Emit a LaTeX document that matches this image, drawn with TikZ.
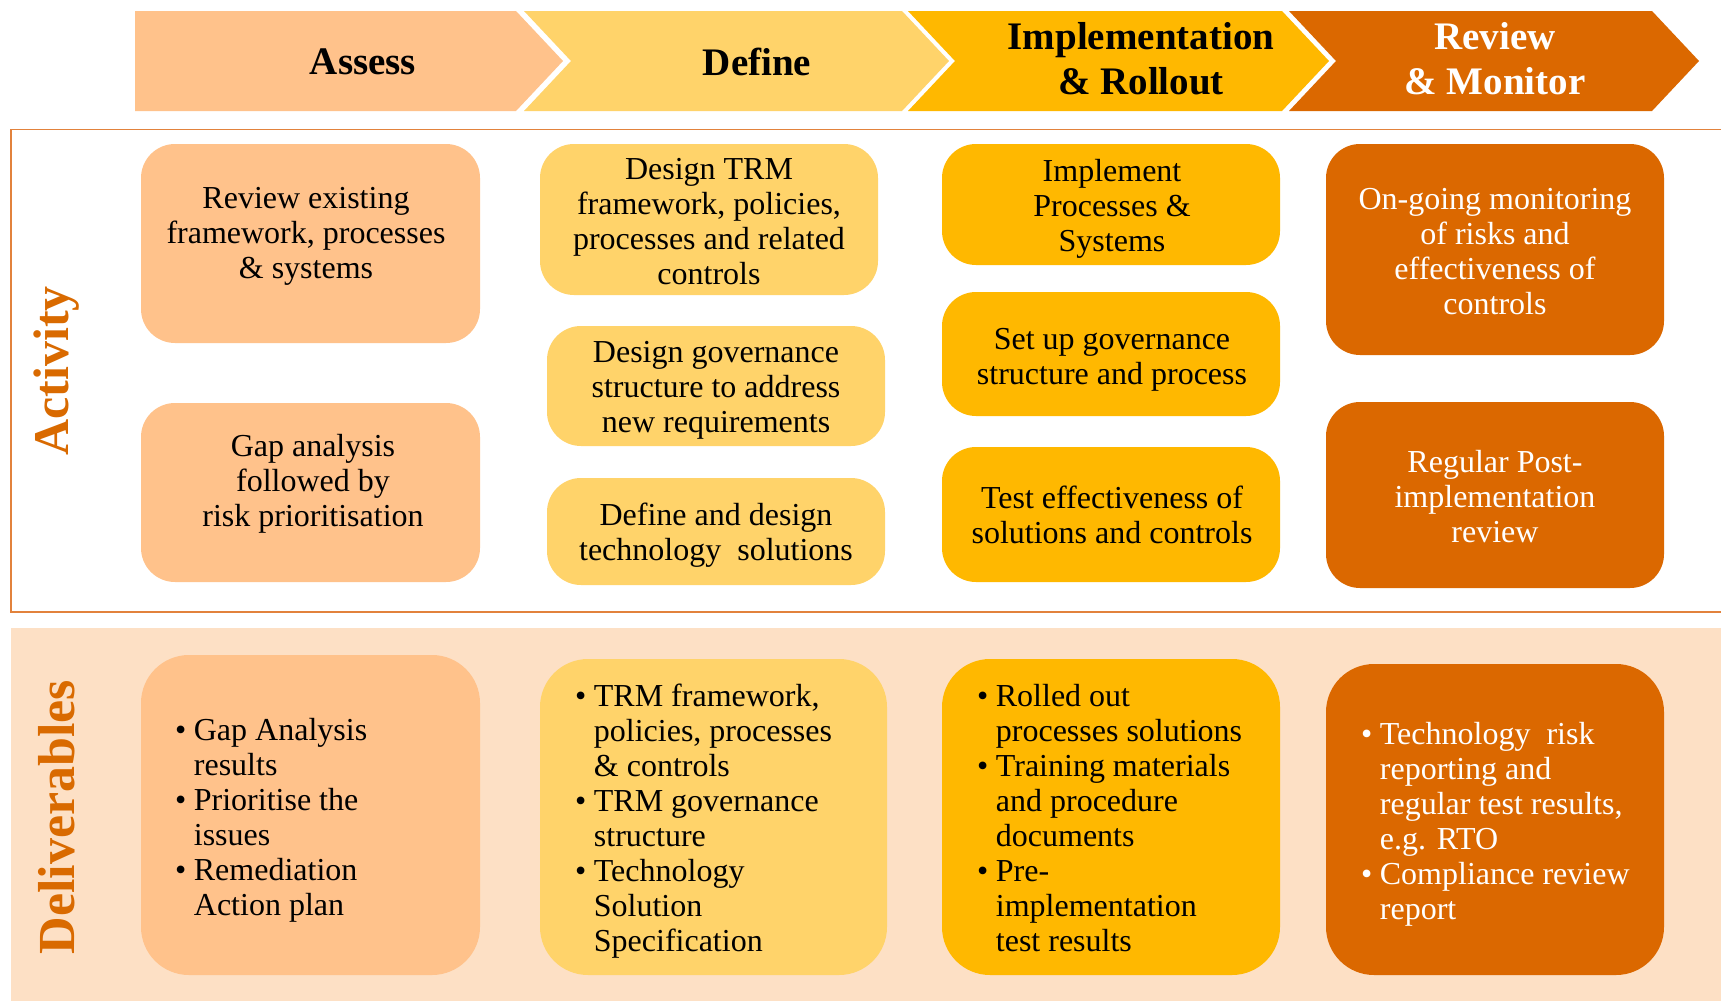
\documentclass[tikz,border=0pt]{standalone}
\usepackage{fontspec}
\setmainfont{Liberation Serif}

\definecolor{assessC}{HTML}{FFC28B}
\definecolor{defineC}{HTML}{FFD36A}
\definecolor{implC}{HTML}{FFB800}
\definecolor{reviewC}{HTML}{DB6800}
\definecolor{delivBg}{HTML}{FDE0C5}
\definecolor{labelC}{HTML}{D96A00}
\definecolor{frameC}{HTML}{E2823C}

% centred multi-line text and bullet lists with fixed line pitch
\newcommand\ctext[1]{\begin{tabular}{@{}c@{}}#1\end{tabular}}
\newcommand\blist[1]{\begin{tabular}{@{}l@{\hspace{7.5pt}}l@{}}#1\end{tabular}}

\tikzset{
  headtxt/.style={font=\fontsize{39}{45}\selectfont\bfseries, inner sep=0pt},
  bodytxt/.style={font=\fontsize{32}{35}\selectfont, inner sep=0pt},
  bultxt/.style={bodytxt, anchor=west},
  sidelabel/.style={font=\fontsize{50}{55}\selectfont\bfseries, text=labelC, rotate=90, inner sep=0pt},
  actbox/.style={rounded corners=34pt},
  delbox/.style={rounded corners=48pt},
}

\begin{document}
\begin{tikzpicture}[x=1pt,y=-1pt]
\useasboundingbox (0,0) rectangle (1721,1001);
\fill[white] (0,0) rectangle (1721,1001);

% ---- phase chevrons
\fill[assessC] (135,11) -- (516,11) -- (563,61) -- (516,111) -- (135,111) -- cycle;
\fill[defineC] (524,11) -- (902,11) -- (949,61) -- (902,111) -- (524,111) -- (571,61) -- cycle;
\fill[implC]   (908,11) -- (1282,11) -- (1329,61) -- (1282,111) -- (908,111) -- (955,61) -- cycle;
\fill[reviewC] (1289,11) -- (1652,11) -- (1699,61) -- (1652,111) -- (1289,111) -- (1336,61) -- cycle;

\node[headtxt] (hAssess) at (363,62) {Assess};
\node[headtxt] (hDefine) at (757,62) {Define};
\node[headtxt] (hImpl) at (1141,63) {\ctext{Implementation\\ \& Rollout}};
\node[headtxt, text=white] (hReview) at (1495,63) {\ctext{Review\\ \& Monitor}};

% ---- activity frame and deliverables band
\draw[frameC, line width=1.3pt] (1721,129.5) -- (11,129.5) -- (11,612) -- (1721,612);
\fill[delivBg] (11,628) rectangle (1721,1001);

\node[sidelabel] (lAct) at (57,371) {Activity};
\node[sidelabel, font=\fontsize{52}{57}\selectfont\bfseries] (lDel) at (57,817) {Deliverables};

% ---- activity boxes
\fill[assessC, actbox] (141,144) rectangle (480,343);
\fill[assessC, actbox] (141,403) rectangle (480,582);
\fill[defineC, actbox] (540,144) rectangle (878,295);
\fill[defineC, actbox] (547,326) rectangle (885,446);
\fill[defineC, actbox] (547,478) rectangle (885,585);
\fill[implC, actbox]   (942,144) rectangle (1280,265);
\fill[implC, actbox]   (942,292) rectangle (1280,416);
\fill[implC, actbox]   (942,447) rectangle (1280,582);
\fill[reviewC, actbox] (1326,144) rectangle (1664,355);
\fill[reviewC, actbox] (1326,402) rectangle (1664,588);

\node[bodytxt] (a1) at (306,236.5) {\ctext{Review existing\\ framework, processes\\ \& systems}};
\node[bodytxt] (a2) at (313,484.5) {\ctext{Gap analysis\\ followed by\\ risk prioritisation}};
\node[bodytxt] (b1) at (709,224.5) {\ctext{Design TRM\\ framework, policies,\\ processes and related\\ controls}};
\node[bodytxt] (b2) at (716,390) {\ctext{Design governance\\ structure to address\\ new requirements}};
\node[bodytxt] (b3) at (716,536) {\ctext{Define and design\\ technology\ \ solutions}};
\node[bodytxt] (c1) at (1112,209.5) {\ctext{Implement\\ Processes \&\\ Systems}};
\node[bodytxt] (c2) at (1112,359.5) {\ctext{Set up governance\\ structure and process}};
\node[bodytxt] (c3) at (1112,518.5) {\ctext{Test effectiveness of\\ solutions and controls}};
\node[bodytxt, text=white] (r1) at (1495,255) {\ctext{On-going monitoring\\ of risks and\\ effectiveness of\\ controls}};
\node[bodytxt, text=white] (r2) at (1495,500) {\ctext{Regular Post-\\ implementation\\ review}};

% ---- deliverable boxes
\fill[assessC, delbox] (141,655) rectangle (480,975);
\fill[defineC, delbox] (540,659) rectangle (887,975);
\fill[implC, delbox]   (942,659) rectangle (1280,975);
\fill[reviewC, delbox] (1326,664) rectangle (1664,975);

\node[bultxt] (d1) at (175,820.5) {\blist{%
  \textbullet & Gap Analysis\\ & results\\
  \textbullet & Prioritise the\\ & issues\\
  \textbullet & Remediation\\ & Action plan}};
\node[bultxt] (d2) at (575,822) {\blist{%
  \textbullet & TRM framework,\\ & policies, processes\\ & \& controls\\
  \textbullet & TRM governance\\ & structure\\
  \textbullet & Technology\\ & Solution\\ & Specification}};
\node[bultxt] (d3) at (977,822) {\blist{%
  \textbullet & Rolled out\\ & processes solutions\\
  \textbullet & Training materials\\ & and procedure\\ & documents\\
  \textbullet & Pre-\\ & implementation\\ & test results}};
\node[bultxt, text=white] (d4) at (1361,825) {\blist{%
  \textbullet & Technology\ \ risk\\ & reporting and\\ & regular test results,\\ & e.g. RTO\\
  \textbullet & Compliance review\\ & report}};
\end{tikzpicture}
\end{document}
